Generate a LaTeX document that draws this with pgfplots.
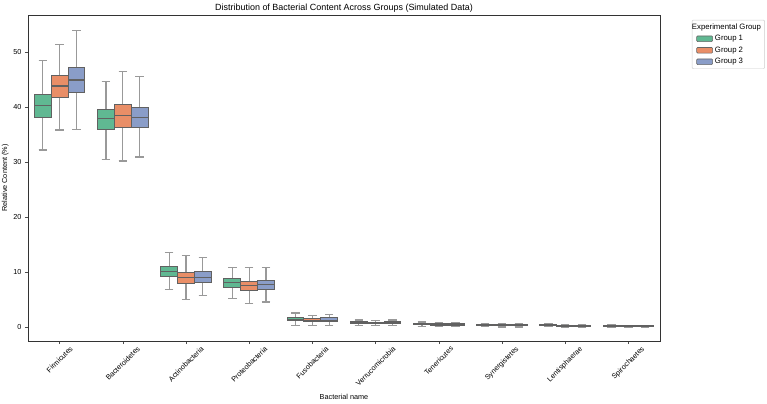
\documentclass[border=0pt]{standalone}
\usepackage{fontspec}
\setmainfont{Liberation Sans}
\usepackage{pgfplots}
\pgfplotsset{compat=1.18}
\usepgfplotslibrary{statistics}
\definecolor{gA}{RGB}{96,184,146}
\definecolor{gB}{RGB}{233,142,103}
\definecolor{gC}{RGB}{138,157,200}
\newcommand{\bx}[7]{\addplot[forget plot, boxplot prepared={draw position=#1, median=#3, lower quartile=#4, upper quartile=#5, lower whisker=#6, upper whisker=#7, box extend=0.267, whisker extend=0.133}, fill=#2, draw=black!62, line width=1bp] coordinates {};}
\newcommand{\rl}[1]{\rotatebox{45}{#1}}
\begin{document}
\begin{tikzpicture}
\begin{axis}[
  at={(0,0)}, anchor=south west,
  scale only axis, width=632bp, height=326bp,
  xmin=-0.5, xmax=9.5, ymin=-2.5, ymax=56.7,
  xtick={0,...,9},
  xticklabels={{\rl{Firmicutes}},{\rl{Bacteroidetes}},{\rl{Actinobacteria}},{\rl{Proteobacteria}},{\rl{Fusobacteria}},{\rl{Verrucomicrobia}},{\rl{Tenericutes}},{\rl{Synergistetes}},{\rl{Lentisphaerae}},{\rl{Spirochaetes}}},
  xticklabel style={anchor=north, font=\fontsize{7.3}{8}\selectfont, inner sep=1.5bp},
  ytick={0,10,20,30,40,50},
  yticklabel style={font=\fontsize{7.3}{8}\selectfont},
  /pgf/number format/assume math mode=true,
  tick align=outside, tick pos=left, major tick length=3bp,
  tick style={black!70, line width=0.6bp},
  axis line style={black!80, line width=0.7bp},
  title={Distribution of Bacterial Content Across Groups (Simulated Data)},
  title style={font=\fontsize{9}{10.8}\selectfont, yshift=-7bp},
  xlabel={Bacterial name},
  ylabel={Relative Content (\%)},
  xlabel style={font=\fontsize{7.3}{8}\selectfont, yshift=-3bp},
  ylabel style={font=\fontsize{7.3}{8}\selectfont, yshift=-2bp},
  boxplot/draw direction=y,
  boxplot/every whisker/.style={draw=black!40, line width=1.2bp},
  boxplot/every median/.style={draw=black!62, line width=1.1bp},
  legend style={at={(1.0506,0.985)}, anchor=north west, font=\fontsize{7.8}{9.4}\selectfont, draw=black!20, rounded corners=1bp, inner sep=1.5bp, row sep=0.6bp},
  legend cell align=left,
]
\addlegendimage{empty legend}
\addlegendentry{\hspace*{-23bp}Experimental Group}
\addlegendimage{legend image code/.code={\draw[fill=gA, draw=black!60, line width=0.6bp] (3bp,-2.8bp) rectangle (19bp,2.8bp);}}
\addlegendentry{Group 1}
\addlegendimage{legend image code/.code={\draw[fill=gB, draw=black!60, line width=0.6bp] (3bp,-2.8bp) rectangle (19bp,2.8bp);}}
\addlegendentry{Group 2}
\addlegendimage{legend image code/.code={\draw[fill=gC, draw=black!60, line width=0.6bp] (3bp,-2.8bp) rectangle (19bp,2.8bp);}}
\addlegendentry{Group 3}
% Firmicutes
\bx{-0.267}{gA}{40.2}{38.1}{42.2}{32.2}{48.4}
\bx{0}{gB}{43.8}{41.8}{45.7}{35.8}{51.4}
\bx{0.267}{gC}{44.9}{42.7}{47.2}{35.9}{53.9}
% Bacteroidetes
\bx{0.733}{gA}{37.9}{35.9}{39.6}{30.4}{44.6}
\bx{1}{gB}{38.4}{36.3}{40.4}{30.2}{46.4}
\bx{1.267}{gC}{38.1}{36.2}{39.9}{30.9}{45.5}
% Actinobacteria
\bx{1.733}{gA}{10.2}{9.3}{11.1}{6.8}{13.6}
\bx{2}{gB}{9.0}{7.9}{9.9}{5.0}{13.0}
\bx{2.267}{gC}{9.1}{8.2}{10.1}{5.8}{12.7}
% Proteobacteria
\bx{2.733}{gA}{8.1}{7.3}{8.9}{5.2}{10.9}
\bx{3}{gB}{7.5}{6.6}{8.3}{4.3}{10.9}
\bx{3.267}{gC}{7.8}{6.9}{8.5}{4.6}{10.9}
% Fusobacteria
\bx{3.733}{gA}{1.45}{1.15}{1.7}{0.3}{2.6}
\bx{4}{gB}{1.25}{1.0}{1.5}{0.3}{2.1}
\bx{4.267}{gC}{1.3}{1.0}{1.7}{0.3}{2.3}
% Verrucomicrobia
\bx{4.733}{gA}{0.85}{0.65}{1.0}{0.35}{1.3}
\bx{5}{gB}{0.8}{0.6}{0.95}{0.3}{1.25}
\bx{5.267}{gC}{0.8}{0.6}{1.0}{0.3}{1.3}
% Tenericutes
\bx{5.733}{gA}{0.6}{0.45}{0.7}{0.2}{0.95}
\bx{6}{gB}{0.5}{0.35}{0.65}{0.1}{0.85}
\bx{6.267}{gC}{0.5}{0.35}{0.65}{0.15}{0.9}
% Synergistetes
\bx{6.733}{gA}{0.4}{0.3}{0.5}{0.1}{0.7}
\bx{7}{gB}{0.35}{0.25}{0.45}{0.05}{0.6}
\bx{7.267}{gC}{0.35}{0.25}{0.45}{0.05}{0.65}
% Lentisphaerae
\bx{7.733}{gA}{0.35}{0.25}{0.42}{0.1}{0.6}
\bx{8}{gB}{0.28}{0.2}{0.35}{0.05}{0.5}
\bx{8.267}{gC}{0.3}{0.22}{0.38}{0.05}{0.55}
% Spirochaetes
\bx{8.733}{gA}{0.25}{0.18}{0.3}{0.05}{0.45}
\bx{9}{gB}{0.18}{0.12}{0.24}{0.02}{0.35}
\bx{9.267}{gC}{0.2}{0.14}{0.26}{0.03}{0.38}
\end{axis}
\pgfresetboundingbox
\path[use as bounding box] (-28bp,-63bp) rectangle (739bp,341bp);
\end{tikzpicture}
\end{document}
